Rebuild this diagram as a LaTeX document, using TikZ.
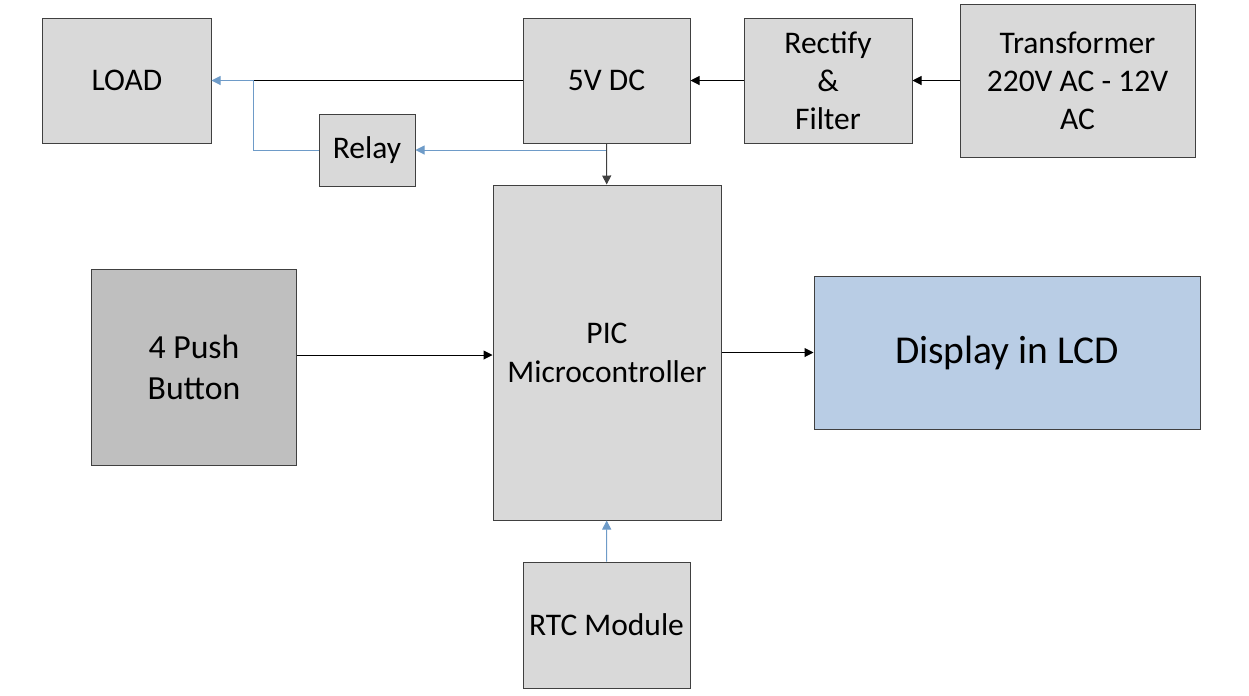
\documentclass[tikz,border=0pt]{standalone}
\usepackage{fontspec}
\setmainfont{Carlito}
\usetikzlibrary{positioning, arrows.meta}
\definecolor{boxfill}{RGB}{217,217,217}
\definecolor{pushfill}{RGB}{191,191,191}
\definecolor{lcdfill}{RGB}{185,205,229}
\definecolor{boxline}{RGB}{64,64,64}
\definecolor{relayblue}{RGB}{110,155,200}
\tikzset{
	x=0.4pt, y=-0.4pt, % one unit is one pixel of the drawing
	>={Triangle[length=3.6pt,width=3.6pt]}, % small filled arrow heads
	line width=0.5pt,
	block/.style={draw=boxline, line width=0.4pt, fill=boxfill, align=center, inner sep=0pt, font=\fontsize{12.6}{15.2}\selectfont}, % sets the properties for each box
	wire/.style={->, black}, % plain connectors
	bluewire/.style={->, relayblue}, % connectors of the relay path
}
\begin{document}
\begin{tikzpicture}
	\useasboundingbox (0,0) rectangle (1249,695);

	\node[block, minimum width=67.2pt, minimum height=50pt] (load) at (127,80.5) {LOAD};
	\node[block, minimum width=66.8pt, minimum height=50pt] (dc) at (606.5,80.5) {5V DC};
	\node[block, minimum width=67.2pt, minimum height=50pt] (rf) at (828,80.5) {Rectify\\\&\\Filter};
	\node[block, minimum width=94pt, minimum height=61.2pt] (tr) at (1077.5,80.5) {Transformer\\220V AC - 12V\\AC};
	\node[block, minimum width=38.4pt, minimum height=28.8pt] (rel) at (367,150) {Relay};
	\node[block, minimum width=91.2pt, minimum height=134pt, font=\fontsize{12.6}{15.6}\selectfont] (pic) at (607,352.5) {PIC\\Microcontroller};
	\node[block, fill=pushfill, minimum width=81.6pt, minimum height=78.4pt, font=\fontsize{13.5}{16.4}\selectfont] (pb) at (194,367) {4 Push\\Button};
	\node[block, fill=lcdfill, minimum width=154.4pt, minimum height=61.2pt, font=\fontsize{15.8}{19}\selectfont] (lcd) at (1007,352.5) {Display in LCD};
	\node[block, minimum width=66.8pt, minimum height=50.4pt] (rtc) at (606.5,625) {RTC Module};

	\coordinate (j) at (253,80.5);
	\coordinate (t) at (606.5,150);

	\draw[wire] (tr) -- (rf);
	\draw[wire] (rf) -- (dc);
	\draw[black] (dc) -- (j);
	\draw[bluewire] (rel.west) -| (j) -- (load);
	\draw[bluewire] (t) -- (rel);
	\draw[wire, boxline] (dc) -- (pic);
	\draw[wire] (pb.east |- 0,355) -- (pic.west |- 0,355);
	\draw[wire, line width=0.4pt] (pic) -- (lcd);
	\draw[bluewire] (rtc) -- (pic);

\end{tikzpicture}
\end{document}
